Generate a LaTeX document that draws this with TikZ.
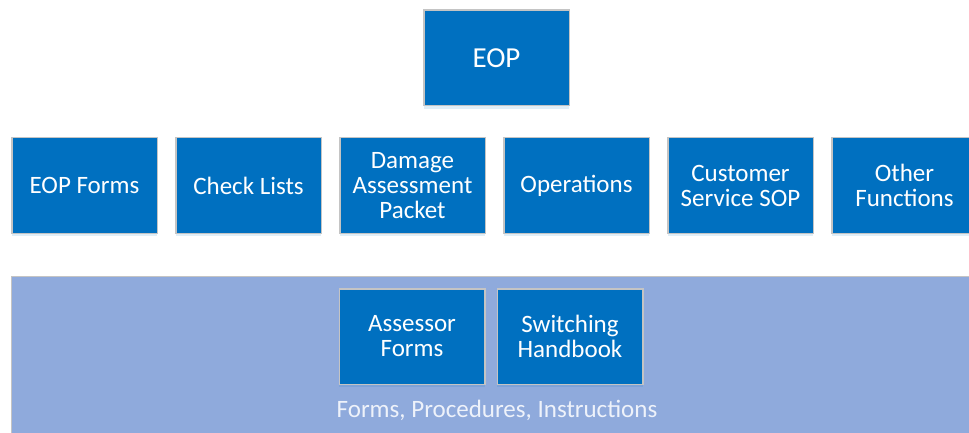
\documentclass[tikz,border=0pt]{standalone}
\usepackage{fontspec}
\setmainfont{Carlito}
\usetikzlibrary{positioning,shadows}
\definecolor{eopblue}{HTML}{0070C0}
\definecolor{bandblue}{HTML}{8FAADC}
\definecolor{edgegray}{HTML}{C4C4C4}
\tikzset{
  box/.style={draw=edgegray, line width=1.5pt, fill=eopblue, rectangle,
    minimum width=145.5pt, minimum height=95.5pt, inner sep=2pt,
    text=white, align=center, font=\fontsize{25}{25}\selectfont,
    drop shadow={shadow xshift=0pt, shadow yshift=-3pt, opacity=0.12, fill=eopblue}},
  band/.style={draw=edgegray, line width=1.5pt, fill=bandblue, rectangle}
}

\begin{document}
\begin{tikzpicture}[x=1pt, y=-1pt, node distance=17pt]
            \useasboundingbox (0,0) rectangle (969,433);
            % lower band
            \node[band, anchor=north west, minimum width=990pt, minimum height=190pt](band) at (10.5,275.5){};
            % top
            \node[box, font=\fontsize{29}{30}\selectfont](eop) at (496.5,58){EOP};
            % second row
            \node[box](eopforms) at (84.5,185.5){EOP Forms};
            \node[box, right=of eopforms](checklists){Check Lists};
            \node[box, right=of checklists](damage){Damage\\Assessment\\Packet};
            \node[box, right=of damage](operations){Operations};
            \node[box, right=of operations](custservice){Customer\\Service SOP};
            \node[box, right=of custservice](otherfunc){Other\\Functions};
            % inside the band
            \node[box](assessor) at (412,336.5){Assessor\\Forms};
            \node[box, right=of assessor, xshift=-6pt](switching){Switching\\Handbook};
            \node[text=white!85!bandblue, font=\fontsize{25}{25}\selectfont](bandlabel) at (497,410.5){Forms, Procedures, Instructions};
        \end{tikzpicture}
\end{document}
